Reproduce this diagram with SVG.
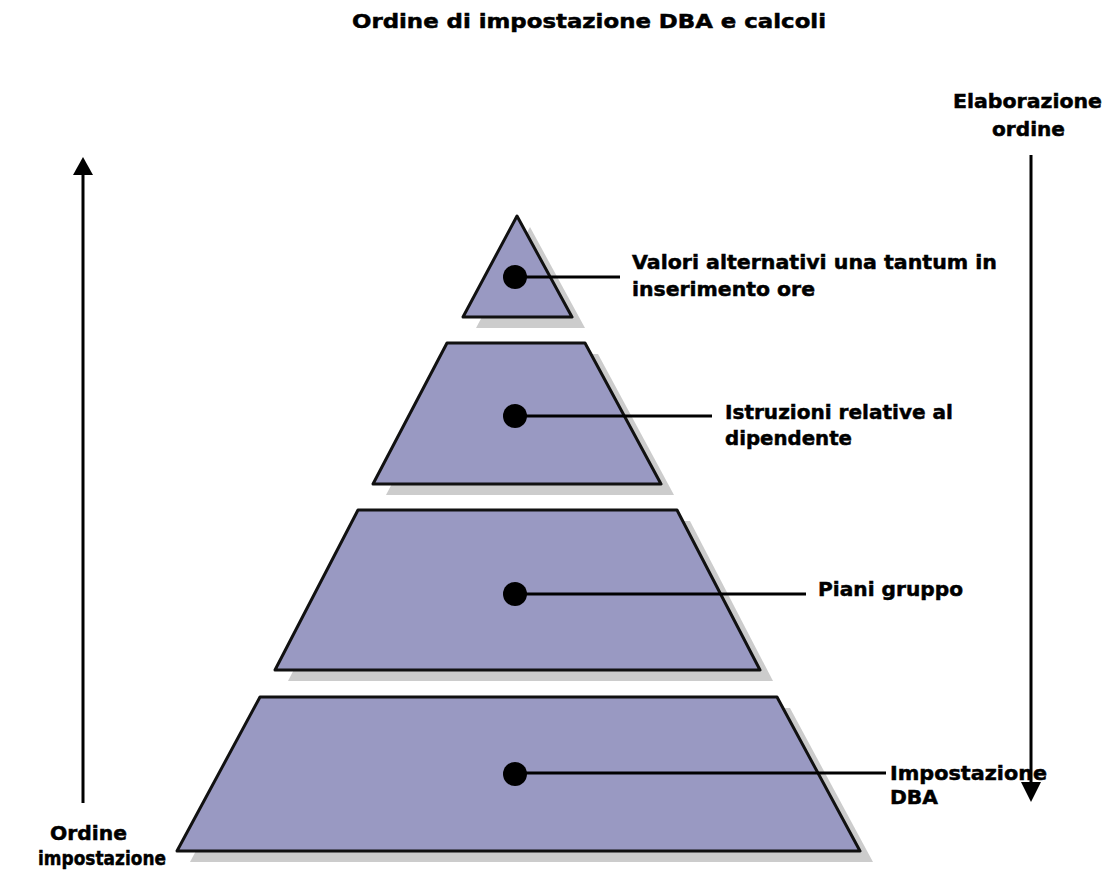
<svg xmlns="http://www.w3.org/2000/svg" width="1106" height="871" viewBox="0 0 1106 871">
<style>
.t{font-family:"DejaVu Sans","Verdana",sans-serif;font-weight:bold;font-size:20px;fill:#000;stroke:#000;stroke-width:0.5}
.tier{fill:#9999c2;stroke:#111;stroke-width:3;stroke-linejoin:round}
.shadow{fill:#cccccc}
.dot{fill:#000}
.lead{stroke:#000;stroke-width:3;fill:none}
.axis{stroke:#000;stroke-width:3;fill:none}
</style>
<rect width="1106" height="871" fill="#fff"/>
<text class="t" x="352" y="28" textLength="474" lengthAdjust="spacingAndGlyphs">Ordine di impostazione DBA e calcoli</text>

<g id="axis-left">
<line class="axis" x1="83" y1="803" x2="83" y2="172"/>
<polygon points="83,157 73,175 93,175" fill="#000"/>
<text class="t" x="50" y="840" textLength="77" lengthAdjust="spacingAndGlyphs">Ordine</text>
<text class="t" x="38" y="865" textLength="128" lengthAdjust="spacingAndGlyphs">impostazione</text>
</g>

<g id="axis-right">
<line class="axis" x1="1031" y1="155" x2="1031" y2="786"/>
<polygon points="1031,802 1021,782 1041,782" fill="#000"/>
<text class="t" x="953" y="108" textLength="149" lengthAdjust="spacingAndGlyphs">Elaborazione</text>
<text class="t" x="992" y="136" textLength="73" lengthAdjust="spacingAndGlyphs">ordine</text>
</g>

<g id="tier4">
<polygon class="shadow" points="273,708 790,708 873,862 190,862"/>
<polygon class="tier" points="260,697 777,697 860,851 177,851"/>
</g>
<g id="tier3">
<polygon class="shadow" points="371,521 690,521 773,681 288,681"/>
<polygon class="tier" points="358,510 677,510 760,670 275,670"/>
</g>
<g id="tier2">
<polygon class="shadow" points="460,354 598,354 674,495 386,495"/>
<polygon class="tier" points="447,343 585,343 661,484 373,484"/>
</g>
<g id="tier1">
<polygon class="shadow" points="530,227 585,328 476,328"/>
<polygon class="tier" points="517,216 572,317 463,317"/>
</g>

<g id="connectors">
<line class="lead" x1="515" y1="277" x2="620" y2="277"/>
<line class="lead" x1="515" y1="416" x2="712" y2="416"/>
<line class="lead" x1="515" y1="594" x2="806" y2="594"/>
<line class="lead" x1="515" y1="773" x2="886" y2="773"/>
</g>

<g id="dot1"><circle class="dot" cx="515" cy="277" r="12"/></g>
<g id="dot2"><circle class="dot" cx="515" cy="416" r="12"/></g>
<g id="dot3"><circle class="dot" cx="515" cy="594" r="12"/></g>
<g id="dot4"><circle class="dot" cx="515" cy="774" r="12"/></g>

<g id="label1">
<text class="t" x="632" y="269" textLength="365" lengthAdjust="spacingAndGlyphs">Valori alternativi una tantum in</text>
<text class="t" x="632" y="296" textLength="183" lengthAdjust="spacingAndGlyphs">inserimento ore</text>
</g>
<g id="label2">
<text class="t" x="725" y="419" textLength="228" lengthAdjust="spacingAndGlyphs">Istruzioni relative al</text>
<text class="t" x="725" y="445" textLength="127" lengthAdjust="spacingAndGlyphs">dipendente</text>
</g>
<g id="label3">
<text class="t" x="818" y="596" textLength="145" lengthAdjust="spacingAndGlyphs">Piani gruppo</text>
</g>
<g id="label4">
<text class="t" x="890" y="780" textLength="157" lengthAdjust="spacingAndGlyphs">Impostazione</text>
<text class="t" x="890" y="804" textLength="48" lengthAdjust="spacingAndGlyphs">DBA</text>
</g>
</svg>
